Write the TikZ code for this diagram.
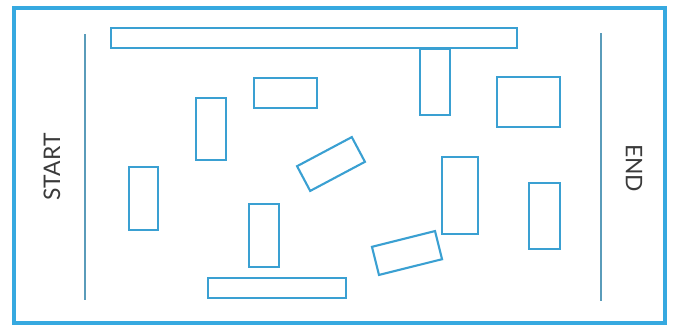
\documentclass[tikz,border=0pt]{standalone}
\usepackage{fontspec}
\setmainfont{Lato}
\usepackage{tikz}
\usetikzlibrary{positioning}
\usepackage{xcolor}
\definecolor{frameblue}{HTML}{36A9E0}
\definecolor{boxblue}{HTML}{3AA0D2}
\definecolor{railblue}{HTML}{5A9CBA}
\definecolor{labelgray}{HTML}{3A3A3A}

\tikzset{
  block/.style 2 args={draw=boxblue, line width=1.8pt, rectangle, inner sep=0pt,
    minimum width=#1*0.3mm, minimum height=#2*0.3mm},
  rail/.style={draw=railblue, line width=1.6pt},
  sidelabel/.style={text=labelgray, font=\fontsize{19.5}{19.5}\selectfont, inner sep=0pt}
}

\begin{document}
\begin{tikzpicture}[x=0.3mm, y=-0.3mm]
  \useasboundingbox (0,0) rectangle (678,327);
  \draw[draw=frameblue, line width=2.8pt] (14,8) rectangle (665,323);

  % start and end rails
  \coordinate (startTop) at (85,34);
  \coordinate (startBot) at (85,300);
  \coordinate (endTop) at (601,33);
  \coordinate (endBot) at (601,301);
  \draw[rail] (startTop) -- (startBot);
  \draw[rail] (endTop) -- (endBot);
  \node[sidelabel, rotate=90] (start) at (52,167) {START};
  \node[sidelabel, rotate=-90] (end) at (634,168) {END};

  % obstacles
  \node[block={406}{20}] (topbar) at (314,38) {};
  \node[block={63}{30}] (wideA) at (285.5,93) {};
  \node[block={30}{62}] (tallB) at (211,129) {};
  \node[block={30}{66}] (tallC) at (435,82) {};
  \node[block={63}{50}] (squareD) at (528.5,102) {};
  \node[block={29}{63}] (tallE) at (143.5,198.5) {};
  \node[block={30}{63}] (tallF) at (264,235.5) {};
  \node[block={138}{20}] (botbar) at (277,288) {};
  \node[block={36}{77}] (tallG) at (460,195.5) {};
  \node[block={31}{66}] (tallH) at (544.5,216) {};
  \node[block={62}{28}, rotate=28] (tiltI) at (331,164) {};
  \node[block={65}{29}, rotate=14] (tiltJ) at (407,253) {};
\end{tikzpicture}
\end{document}
